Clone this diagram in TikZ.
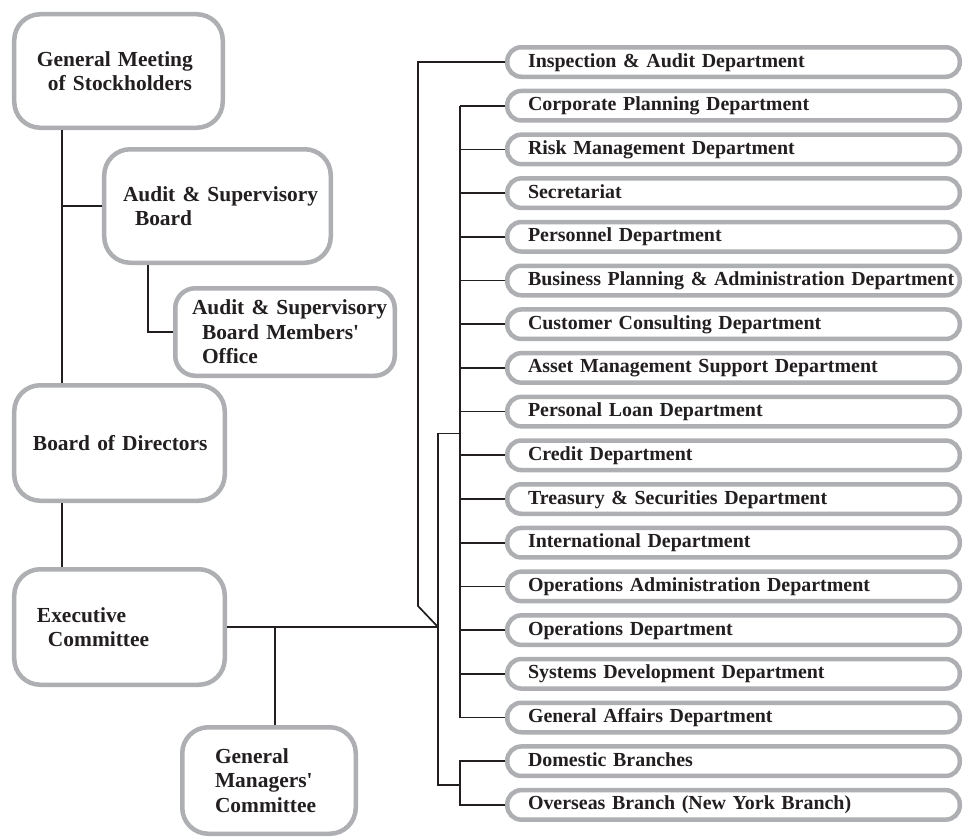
\documentclass[tikz,border=0pt]{standalone}
\usepackage{fontspec}
\setmainfont{Liberation Serif}
\usepackage{tikz}

\begin{document}
\begin{tikzpicture}[x=1bp,y=-1bp]

	\definecolor{rimgray}{RGB}{173,175,178}
	\definecolor{inkblack}{RGB}{35,31,32}

	\tikzstyle{edge} = [draw=inkblack,line width=1.7bp,-]
	\tikzset{textinset/.style = {execute at begin node={\leftskip=#1\relax}}}
	\tikzset{unit/.style = {shape=rectangle,draw=rimgray,fill=white,line width=4.5bp,
		rounded corners=26bp,align=left,inner xsep=0bp,
		font=\bfseries\fontsize{21.5}{24.5}\selectfont,text=inkblack}}
	\tikzset{dept/.style = {shape=rectangle,draw=rimgray,fill=white,line width=4.5bp,
		rounded corners=14bp,anchor=west,minimum width=452.5bp,minimum height=29.5bp,
		text width=452.5bp,inner xsep=0bp,inner ysep=0bp,align=left,textinset=20.75bp,
		text height=14.5bp,text depth=4.5bp,
		font=\bfseries\fontsize{20}{24}\selectfont,text=inkblack}}

	\useasboundingbox (0,0) rectangle (963,838);

	% left column
	\node[unit,minimum width=208.5bp,minimum height=113.5bp,text width=208.5bp,textinset=22.75bp] (gm) at (118.5,71)
		{General Meeting\\\hspace*{11bp}of Stockholders};
	\node[unit,minimum width=226.5bp,minimum height=113.5bp,text width=226.5bp,textinset=18.75bp] (ab) at (217.5,206)
		{Audit \& Supervisory\\\hspace*{12bp}Board};
	\node[unit,rounded corners=20bp,minimum width=219.5bp,minimum height=87.5bp,text width=219.5bp,textinset=16.75bp] (office) at (285,332)
		{Audit \& Supervisory\\\hspace*{10bp}Board Members\textquotesingle\\\hspace*{10bp}Office};
	\node[unit,minimum width=210.5bp,minimum height=115.5bp,text width=210.5bp,textinset=18.75bp] (bod) at (119.5,443)
		{Board of Directors};
	\node[unit,minimum width=210.5bp,minimum height=115.5bp,text width=210.5bp,textinset=22.75bp] (exec) at (119.5,627)
		{Executive\\\hspace*{11bp}Committee};
	\node[unit,minimum width=173.5bp,minimum height=106.5bp,text width=173.5bp,textinset=32.75bp] (gmc) at (269,780.5)
		{General\\Managers\textquotesingle\\Committee};

	% departments
	\node[dept] (insp) at (505,62.0) {Inspection \& Audit Department};
	\node[dept] (corp) at (505,105.7) {Corporate Planning Department};
	\node[dept] (risk) at (505,149.4) {Risk Management Department};
	\node[dept] (secr) at (505,193.1) {Secretariat};
	\node[dept] (pers) at (505,236.8) {Personnel Department};
	\node[dept] (bizplan) at (505,280.5) {Business Planning \& Administration Department};
	\node[dept] (custcons) at (505,324.2) {Customer Consulting Department};
	\node[dept] (assetmgmt) at (505,367.9) {Asset Management Support Department};
	\node[dept] (perloan) at (505,411.6) {Personal Loan Department};
	\node[dept] (credit) at (505,455.3) {Credit Department};
	\node[dept] (treasury) at (505,499.0) {Treasury \& Securities Department};
	\node[dept] (intl) at (505,542.7) {International Department};
	\node[dept] (opsadmin) at (505,586.4) {Operations Administration Department};
	\node[dept] (ops) at (505,630.1) {Operations Department};
	\node[dept] (sysdev) at (505,673.8) {Systems Development Department};
	\node[dept] (genaff) at (505,717.5) {General Affairs Department};
	\node[dept] (domestic) at (505,761.2) {Domestic Branches};
	\node[dept] (overseas) at (505,804.9) {Overseas Branch (New York Branch)};

	\coordinate (spine) at (62,0);
	\coordinate (tee) at (275,627);
	\coordinate (hub) at (438,627);
	\coordinate (bend) at (418,606);
	\coordinate (busA) at (460,433.5);
	\coordinate (busB) at (460,785);

	\draw[edge] (gm.south -| spine) to (bod.north -| spine);
	\draw[edge] (bod.south -| spine) to (exec.north -| spine);
	\draw[edge] (ab.west) to (ab.west -| spine);
	\draw[edge] ([xshift=46bp]ab.south west) |- (office.west);
	\draw[edge] (exec.east) to (hub);
	\draw[edge] (tee) to (tee |- gmc.north);

	\draw[edge] (insp.west) -| (bend) -- (hub);
	\draw[edge] (busA) -| (hub) |- (busB);
	\draw[edge] (corp.west -| busA) to (genaff.west -| busA);
	\draw[edge] (corp.west) to (corp.west -| busA);
	\draw[edge] (risk.west) to (risk.west -| busA);
	\draw[edge] (secr.west) to (secr.west -| busA);
	\draw[edge] (pers.west) to (pers.west -| busA);
	\draw[edge] (bizplan.west) to (bizplan.west -| busA);
	\draw[edge] (custcons.west) to (custcons.west -| busA);
	\draw[edge] (assetmgmt.west) to (assetmgmt.west -| busA);
	\draw[edge] (perloan.west) to (perloan.west -| busA);
	\draw[edge] (credit.west) to (credit.west -| busA);
	\draw[edge] (treasury.west) to (treasury.west -| busA);
	\draw[edge] (intl.west) to (intl.west -| busA);
	\draw[edge] (opsadmin.west) to (opsadmin.west -| busA);
	\draw[edge] (ops.west) to (ops.west -| busA);
	\draw[edge] (sysdev.west) to (sysdev.west -| busA);
	\draw[edge] (genaff.west) to (genaff.west -| busA);
	\draw[edge] (domestic.west) -| (busB) |- (overseas.west);
\end{tikzpicture}
\end{document}
